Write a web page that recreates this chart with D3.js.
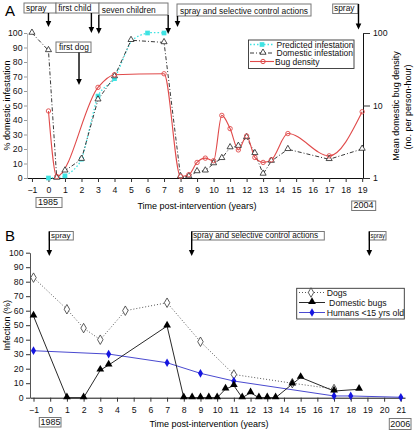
<!DOCTYPE html>
<html><head><meta charset="utf-8">
<script src="https://cdn.jsdelivr.net/npm/d3@7"></script>
<style>body{margin:0;background:#fff}svg{display:block}</style>
</head><body><script>
// ---------- Panel A data ----------
const aTimeTicks = d3.range(-1, 20);
const aPctTicks = d3.range(0, 101, 10);
const aDensityTicks = [1, 10, 100];
const predictedT   = [0, 1, 2, 3, 4, 5, 6, 7];
const predictedVal = [0, 1.5, 13, 56.5, 68.5, 94, 100, 100];
const domInfT   = [-1, 0, 0.5, 1, 2, 3, 4, 5, 7, 8, 8.5, 9, 9.5, 10, 10.5, 11, 11.5, 12, 12.5, 13, 13.5, 14.5, 17, 19];
const domInfVal = [100, 88, 0, 5, 13, 54, 70, 95, 93.5, 1, 1, 4.5, 5, 10, 13.6, 21, 22, 28, 17, 2.8, 11.7, 19.8, 12.9, 20];
const densT   = [0, 0.5, 3, 4, 7, 8, 8.5, 9, 9.5, 10, 10.5, 11, 11.5, 12, 12.5, 13, 13.5, 14.5, 17, 19];
const densVal = [8.4, 1.05, 17.8, 26.6, 27.4, 1.05, 1.11, 1.64, 1.88, 1.73, 7.3, 4.8, 2.44, 3.8, 1.92, 1.64, 1.78, 4.1, 2.02, 8.2];
const legendA = ["Predicted infestation", "Domestic infestation", "Bug density"];

// ---------- Panel B data ----------
const bTimeTicks = d3.range(-1, 22);
const bPctTicks = d3.range(0, 101, 10);
const dogsT   = [-1, 1, 2, 3, 4.5, 7, 9, 11, 14.5, 17];
const dogsVal = [82.8, 61, 48, 40, 60, 65.5, 38.6, 16, 10, 6];
const bugsT   = [-1, 1, 2, 3, 3.5, 7, 8, 8.5, 9, 9.5, 10, 10.5, 11, 11.5, 12, 12.5, 13, 13.5, 14.5, 15, 17, 18.5];
const bugsVal = [56.3, 0, 0, 19, 22.5, 49.4, 0, 0, 0, 0, 0, 6, 8.3, 0, 3.4, 0, 0, 0, 9.4, 14, 4.6, 5.8];
const humansT   = [-1, 3.5, 7, 9, 11, 17, 18, 21];
const humansVal = [32.4, 30.1, 24.1, 16.8, 11.5, 1.2, 1.2, 0.3];
const legendB = ["Dogs", " Domestic bugs", "Humans <15 yrs old"];

// ---------- setup ----------
const FONT = '"Liberation Sans", Arial, Helvetica, sans-serif';
const svg = d3.select("body").append("svg").attr("width", 415).attr("height", 431)
  .attr("font-family", FONT);

const xA = d3.scaleLinear([-1.3, 19.05], [27, 363]);
const yA = d3.scaleLinear([0, 100], [178, 33]);
const yAR = d3.scaleLog([1, 100], [178, 33]);
const xB = d3.scaleLinear([-1.21, 21.25], [30, 405]);
const yB = d3.scaleLinear([0, 100], [397.7, 252.7]);

const zip = (t, v) => t.map((d, i) => [d, v[i]]);

function styleAxis(g, fs) {
  g.attr("font-family", FONT).attr("font-size", fs);
  g.selectAll("text").attr("fill", "#111");
  g.selectAll(".tick line").attr("stroke", "#333");
}

function arrow(x, y1, y2) {
  svg.append("line").attr("x1", x).attr("x2", x).attr("y1", y1).attr("y2", y2 - 5)
    .attr("stroke", "#000").attr("stroke-width", 1.4);
  svg.append("path").attr("d", `M${x - 2.8},${y2 - 6}L${x + 2.8},${y2 - 6}L${x},${y2}Z`).attr("fill", "#000");
}
function box(x1, y1, x2, y2, label, fs, tx, fit) {
  svg.append("rect").attr("x", x1).attr("y", y1).attr("width", x2 - x1).attr("height", y2 - y1)
    .attr("fill", "#fff").attr("stroke", "#777").attr("stroke-width", 1);
  const t = svg.append("text").attr("x", tx != null ? tx : x1 + 2.5).attr("y", y2 - 2.3).attr("font-size", fs)
    .attr("fill", "#111").text(label);
  if (fit) t.attr("textLength", fit).attr("lengthAdjust", "spacingAndGlyphs");
}

// ---------- Panel A ----------
svg.append("text").attr("x", 5).attr("y", 16).attr("font-size", 15).text("A");

const axA = svg.append("g").attr("transform", `translate(0,${yA(0)})`)
  .call(d3.axisBottom(xA).tickValues(aTimeTicks).tickSize(4).tickSizeOuter(0).tickPadding(5));
styleAxis(axA, 8.7);
axA.select(".domain").attr("stroke", "#111");

const ayA = svg.append("g").attr("transform", `translate(${xA.range()[0]},0)`)
  .call(d3.axisLeft(yA).tickValues(aPctTicks).tickSize(3).tickSizeOuter(0).tickPadding(1.5));
styleAxis(ayA, 8.7);
ayA.select(".domain").attr("stroke", "#bbb");
ayA.selectAll(".tick line").attr("stroke", "#999");

const ayAR = svg.append("g").attr("transform", `translate(${xA.range()[1]},0)`)
  .call(d3.axisRight(yAR).tickValues(aDensityTicks).tickFormat(d3.format("d")).tickSize(7).tickSizeOuter(0).tickPadding(3));
styleAxis(ayAR, 8.7);
ayAR.select(".domain").attr("stroke", "#111");

svg.append("text").attr("transform", `translate(10,${(yA(0) + yA(100)) / 2}) rotate(-90)`)
  .attr("text-anchor", "middle").attr("font-size", 9).text("% domestic infestation");
svg.append("text").attr("transform", `translate(399,106) rotate(-90)`)
  .attr("text-anchor", "middle").attr("font-size", 9).text("Mean domestic bug density");
svg.append("text").attr("transform", `translate(411,107) rotate(-90)`)
  .attr("text-anchor", "middle").attr("font-size", 9).text("(no. per person-hour)");
svg.append("text").attr("x", 197).attr("y", 209).attr("text-anchor", "middle").attr("font-size", 9)
  .text("Time post-intervention (years)");
box(36, 197.5, 62, 207.5, "1985", 9, 38);
box(351.7, 201, 375.7, 210.5, "2004", 9, 353.5);

// series A
const cyan = "#3fe3e3", red = "#e04a4a";
const lineA = d3.line().x(d => xA(d[0])).y(d => yA(d[1]));
svg.append("path").datum(zip(predictedT, predictedVal))
  .attr("d", lineA.curve(d3.curveCardinal.tension(0.3)))
  .attr("fill", "none").attr("stroke", cyan).attr("stroke-width", 1.3).attr("stroke-dasharray", "1.5,2");
svg.append("path").datum(zip(domInfT, domInfVal))
  .attr("d", d3.line().x(d => xA(d[0])).y(d => yA(d[1]))).attr("fill", "none")
  .attr("stroke", "#222").attr("stroke-width", 0.9).attr("stroke-dasharray", "4,2,1,2");
svg.append("path").datum(zip(densT, densVal))
  .attr("d", d3.line().x(d => xA(d[0])).y(d => yAR(d[1])).curve(d3.curveMonotoneX))
  .attr("fill", "none").attr("stroke", red).attr("stroke-width", 1.1);

svg.append("g").selectAll("path").data(zip(predictedT, predictedVal).filter(d => d[0] !== 5)).join("path")
  .attr("transform", d => `translate(${xA(d[0])},${yA(d[1])})`)
  .attr("d", d3.symbol(d3.symbolSquare, 22)).attr("fill", cyan);
svg.append("g").selectAll("path").data(zip(domInfT, domInfVal)).join("path")
  .attr("transform", d => `translate(${xA(d[0])},${yA(d[1]) - 0.5})`)
  .attr("d", d3.symbol(d3.symbolTriangle, 16)).attr("fill", "#fff").attr("stroke", "#222").attr("stroke-width", 0.8);
svg.append("g").selectAll("circle").data(zip(densT, densVal)).join("circle")
  .attr("cx", d => xA(d[0])).attr("cy", d => yAR(d[1])).attr("r", 2.2)
  .attr("fill", "none").attr("stroke", red).attr("stroke-width", 0.9);

// legend A
svg.append("rect").attr("x", 248.5).attr("y", 40).attr("width", 105.5).attr("height", 28.5)
  .attr("fill", "#fff").attr("stroke", "#333").attr("stroke-width", 0.9);
const legAy = [44.5, 53, 61.5];
legendA.forEach((lab, i) => {
  const y = legAy[i];
  svg.append("text").attr("x", i === 2 ? 275 : 276.5).attr("y", y + 3).attr("font-size", 8.5).attr("fill", "#111").text(lab);
});
svg.append("line").attr("x1", 250).attr("x2", 274).attr("y1", legAy[0]).attr("y2", legAy[0])
  .attr("stroke", cyan).attr("stroke-width", 1.3).attr("stroke-dasharray", "1.5,2");
svg.append("path").attr("transform", `translate(262,${legAy[0]})`).attr("d", d3.symbol(d3.symbolSquare, 22)).attr("fill", cyan);
svg.append("line").attr("x1", 250).attr("x2", 274).attr("y1", legAy[1]).attr("y2", legAy[1])
  .attr("stroke", "#222").attr("stroke-width", 0.9).attr("stroke-dasharray", "4,2,1,2");
svg.append("path").attr("transform", `translate(263,${legAy[1] - 0.5})`).attr("d", d3.symbol(d3.symbolTriangle, 16))
  .attr("fill", "#fff").attr("stroke", "#222").attr("stroke-width", 0.8);
svg.append("line").attr("x1", 250).attr("x2", 274).attr("y1", legAy[2]).attr("y2", legAy[2])
  .attr("stroke", red).attr("stroke-width", 1.1);
svg.append("circle").attr("cx", 263).attr("cy", legAy[2]).attr("r", 2.2).attr("fill", "none").attr("stroke", red);

// annotations A
box(24, 3, 56, 13, "spray", 8.4, 26);
arrow(xA(0), 13, 27);
box(56, 3, 99, 13, "first child", 8.4, 58.3);
arrow(xA(2.6), 13, 33);
box(99, 3, 168, 15, "seven children", 8.4, 101.7);
arrow(xA(3.05), 15, 34);
arrow(xA(7.25), 15, 34);
box(56, 42, 91, 52.5, "first dog", 8.4, 59);
arrow(xA(1.85), 52.5, 85);
box(177, 4, 311, 16, "spray and selective control actions", 8.4, 180);
arrow(177.5, 16, 27);
box(332.7, 4, 358, 13.5, "spray", 8.4, 334);
arrow(358.5, 4, 29.5);

// ---------- Panel B ----------
svg.append("text").attr("x", 5).attr("y", 241).attr("font-size", 15).text("B");

const axB = svg.append("g").attr("transform", `translate(0,${yB(0)})`)
  .call(d3.axisBottom(xB).tickValues(bTimeTicks).tickSize(4).tickSizeOuter(0).tickPadding(5));
styleAxis(axB, 8.7);
axB.select(".domain").attr("stroke", "#111");
const ayB = svg.append("g").attr("transform", `translate(${xB.range()[0]},0)`)
  .call(d3.axisLeft(yB).tickValues(bPctTicks).tickSize(4).tickSizeOuter(0).tickPadding(2.5));
styleAxis(ayB, 8.7);
ayB.select(".domain").attr("stroke", "#555");

svg.append("text").attr("transform", `translate(10,${(yB(0) + yB(100)) / 2}) rotate(-90)`)
  .attr("text-anchor", "middle").attr("font-size", 9).text("Infection (%)");
svg.append("text").attr("x", 209).attr("y", 427).attr("text-anchor", "middle").attr("font-size", 9)
  .text("Time post-intervention (years)");
box(39.3, 417.5, 61, 427, "1985", 9, 40.5);
box(389.3, 418.5, 411, 429.5, "2006", 9, 390.3);

const blue = "#4a4ad0", blueM = "#1515e0";
const lineB = d3.line().x(d => xB(d[0])).y(d => yB(d[1]));
svg.append("path").datum(zip(dogsT, dogsVal)).attr("d", lineB).attr("fill", "none")
  .attr("stroke", "#444").attr("stroke-width", 0.9).attr("stroke-dasharray", "1,2");
svg.append("path").datum(zip(humansT, humansVal)).attr("d", lineB).attr("fill", "none")
  .attr("stroke", blue).attr("stroke-width", 1);
svg.append("path").datum(zip(bugsT, bugsVal)).attr("d", lineB).attr("fill", "none")
  .attr("stroke", "#111").attr("stroke-width", 0.9);

svg.append("g").selectAll("path").data(zip(dogsT, dogsVal)).join("path")
  .attr("transform", d => `translate(${xB(d[0])},${yB(d[1])})`)
  .attr("d", d3.symbol(d3.symbolDiamond, 26)).attr("fill", "#fff").attr("stroke", "#333").attr("stroke-width", 0.8);
svg.append("g").selectAll("path").data(zip(humansT, humansVal)).join("path")
  .attr("transform", d => `translate(${xB(d[0])},${yB(d[1])})`)
  .attr("d", d3.symbol(d3.symbolDiamond, 22)).attr("fill", blueM);
svg.append("g").selectAll("path").data(zip(bugsT, bugsVal)).join("path")
  .attr("transform", d => `translate(${xB(d[0])},${yB(d[1]) - 0.8})`)
  .attr("d", d3.symbol(d3.symbolTriangle, 26)).attr("fill", "#000");

// legend B
svg.append("rect").attr("x", 296.7).attr("y", 288.3).attr("width", 107.6).attr("height", 30.7)
  .attr("fill", "#fff").attr("stroke", "#333").attr("stroke-width", 0.9);
const legBy = [292.5, 302.5, 312.5];
legendB.forEach((lab, i) => {
  svg.append("text").attr("x", 326.7).attr("y", legBy[i] + 3.2).attr("font-size", 8.7).attr("fill", "#111")
    .attr("xml:space", "preserve").style("white-space", "pre").text(lab);
});
svg.append("line").attr("x1", 299).attr("x2", 324).attr("y1", legBy[0]).attr("y2", legBy[0])
  .attr("stroke", "#444").attr("stroke-width", 0.9).attr("stroke-dasharray", "1,2");
svg.append("path").attr("transform", `translate(311,${legBy[0]})`).attr("d", d3.symbol(d3.symbolDiamond, 26))
  .attr("fill", "#fff").attr("stroke", "#333").attr("stroke-width", 0.8);
svg.append("line").attr("x1", 299).attr("x2", 325).attr("y1", legBy[1]).attr("y2", legBy[1])
  .attr("stroke", "#111").attr("stroke-width", 0.9);
svg.append("path").attr("transform", `translate(312,${legBy[1] - 0.8})`).attr("d", d3.symbol(d3.symbolTriangle, 26)).attr("fill", "#000");
svg.append("line").attr("x1", 299).attr("x2", 325).attr("y1", legBy[2]).attr("y2", legBy[2])
  .attr("stroke", blue).attr("stroke-width", 1);
svg.append("path").attr("transform", `translate(312,${legBy[2]})`).attr("d", d3.symbol(d3.symbolDiamond, 22)).attr("fill", blueM);

// annotations B
box(49.3, 231.5, 73.3, 240, "spray", 8, 51);
arrow(49.3, 231.5, 256);
box(191.7, 231.5, 324.3, 240, "spray and selective control actions", 8.2, 193);
arrow(191.7, 231.5, 256);
box(369.3, 231.5, 386, 240, "spray", 8, 370.5, 14.5);
arrow(369.3, 231.5, 256);
</script></body></html>
